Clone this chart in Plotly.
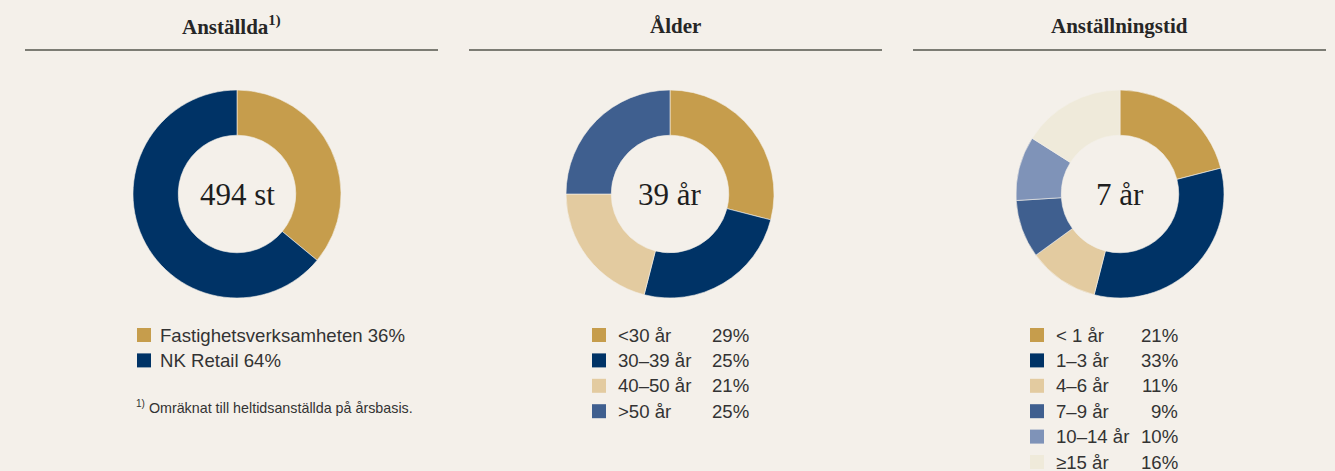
import plotly.graph_objects as go

W, H = 1335, 471

# ---- data ----
emp_labels = ["Fastighetsverksamheten", "NK Retail"]
emp_values = [36, 64]
emp_total = "494 st"

age_labels = ["<30 år", "30–39 år", "40–50 år", ">50 år"]
age_values = [29, 25, 21, 25]
age_center = "39 år"

tenure_labels = ["< 1 år", "1–3 år", "4–6 år", "7–9 år", "10–14 år", "≥15 år"]
tenure_values = [21, 33, 11, 9, 10, 16]
tenure_center = "7 år"

titles = ["Anställda<sup style='font-size:13px'>1)</sup>", "Ålder", "Anställningstid"]
footnote = "<sup>1)</sup> Omräknat till heltidsanställda på årsbasis."

# ---- styling ----
BG = "#F4F0EA"
GOLD = "#C69D4C"
NAVY = "#003366"
BEIGE = "#E3CBA0"
BLUE = "#3F5F8F"
LIGHTBLUE = "#7F93B8"
CREAM = "#EFEADA"
TEXT = "#262626"
RULE = "#7C7C74"
SERIF = "Liberation Serif, Times New Roman, serif"
SANS = "Liberation Sans, Arial, sans-serif"

emp_colors = [GOLD, NAVY]
age_colors = [GOLD, NAVY, BEIGE, BLUE]
tenure_colors = [GOLD, NAVY, BEIGE, BLUE, LIGHTBLUE, CREAM]


def px_x(x):
    return x / W


def px_y(y):
    return 1 - y / H


R = 104
centers = [237, 670, 1120]
CY = 194

fig = go.Figure()

for cx, labels, values, colors in [
    (centers[0], emp_labels, emp_values, emp_colors),
    (centers[1], age_labels, age_values, age_colors),
    (centers[2], tenure_labels, tenure_values, tenure_colors),
]:
    fig.add_trace(go.Pie(
        labels=labels, values=values, hole=0.565,
        sort=False, direction="clockwise", rotation=0,
        marker=dict(colors=colors, line=dict(color=BG, width=0.6)),
        textinfo="none", hoverinfo="label+percent", showlegend=False,
        domain=dict(x=[px_x(cx - R), px_x(cx + R)],
                    y=[px_y(CY + R), px_y(CY - R)]),
    ))

annotations = []
shapes = []

# section titles with rules
rules = [(25, 438), (469, 882), (913, 1326)]
for (x0, x1), t in zip(rules, titles):
    annotations.append(dict(
        x=px_x((x0 + x1) / 2), y=px_y(26), xref="paper", yref="paper",
        text=f"<b>{t}</b>", showarrow=False, xanchor="center", yanchor="middle",
        font=dict(family=SERIF, size=21, color=TEXT)))
    shapes.append(dict(type="line", xref="paper", yref="paper",
                       x0=px_x(x0), x1=px_x(x1), y0=px_y(50), y1=px_y(50),
                       line=dict(color=RULE, width=2)))

# center labels
for cx, txt in zip(centers, [emp_total, age_center, tenure_center]):
    annotations.append(dict(
        x=px_x(cx), y=px_y(CY), xref="paper", yref="paper", text=txt,
        showarrow=False, xanchor="center", yanchor="middle",
        font=dict(family=SERIF, size=31, color="#1E1E1E")))


def legend_square(x, y, color):
    shapes.append(dict(type="rect", xref="paper", yref="paper",
                       x0=px_x(x), x1=px_x(x + 14), y0=px_y(y + 7), y1=px_y(y - 7),
                       fillcolor=color, line=dict(width=0)))


def legend_text(x, y, text, anchor="left"):
    annotations.append(dict(
        x=px_x(x), y=px_y(y), xref="paper", yref="paper", text=text,
        showarrow=False, xanchor=anchor, yanchor="middle",
        font=dict(family=SANS, size=18.6, color="#333333")))


ROW = 25.4

# legend: employees
for i, (lab, val, col) in enumerate(zip(emp_labels, emp_values, emp_colors)):
    y = 335 + i * ROW
    legend_square(137, y, col)
    legend_text(158, y, f"{lab} {val}%")

annotations.append(dict(
    x=px_x(134), y=px_y(407), xref="paper", yref="paper", text=footnote,
    showarrow=False, xanchor="left", yanchor="middle",
    font=dict(family=SANS, size=14.3, color="#333333")))

# legend: age
for i, (lab, val, col) in enumerate(zip(age_labels, age_values, age_colors)):
    y = 335 + i * ROW
    legend_square(592, y, col)
    legend_text(616, y, lab)
    legend_text(751, y, f"{val}%", anchor="right")

# legend: tenure
for i, (lab, val, col) in enumerate(zip(tenure_labels, tenure_values, tenure_colors)):
    y = 335 + i * ROW
    legend_square(1030, y, col)
    legend_text(1054, y, lab)
    legend_text(1180, y, f"{val}%", anchor="right")

fig.update_layout(
    width=W, height=H, margin=dict(l=0, r=0, t=0, b=0),
    paper_bgcolor=BG, plot_bgcolor=BG,
    annotations=annotations, shapes=shapes,
)

fig.write_html("out.html", config={"displayModeBar": False})
